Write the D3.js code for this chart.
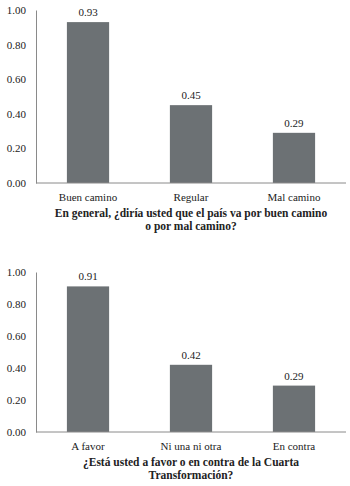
<!DOCTYPE html>
<html>
<head>
<meta charset="utf-8">
<script src="https://cdn.jsdelivr.net/npm/d3@7"></script>
<style>
  body { margin: 0; background: #fff; }
  text { font-family: "Liberation Serif", serif; fill: #222; }
</style>
</head>
<body>
<div id="chart"></div>
<script>
// data
const cats1 = ["Buen camino", "Regular", "Mal camino"];
const vals1 = [0.93, 0.45, 0.29];
const title1 = ["En general, ¿diría usted que el país va por buen camino", "o por mal camino?"];

const cats2 = ["A favor", "Ni una ni otra", "En contra"];
const vals2 = [0.91, 0.42, 0.29];
const title2 = ["¿Está usted a favor o en contra de la Cuarta", "Transformación?"];

const ticks = [0, 0.2, 0.4, 0.6, 0.8, 1.0];

const width = 350, height = 486;

const svg = d3.select('#chart')
  .append('svg')
  .attr('width', width)
  .attr('height', height);

function drawChart(cats, vals, title, top, bottom) {
  const left = 36, right = 346;

  const x = d3.scaleBand()
    .domain(cats)
    .range([left, right])
    .paddingInner(0.59)
    .paddingOuter(0.3);

  const y = d3.scaleLinear()
    .domain([0, 1])
    .range([bottom, top]);

  const g = svg.append('g');

  // y axis
  const yAxis = d3.axisLeft(y)
    .tickValues(ticks)
    .tickSize(0)
    .tickPadding(10)
    .tickFormat(d3.format('.2f'));

  g.append('g')
    .attr('transform', 'translate(' + left + ',0)')
    .call(yAxis)
    .call(s => s.select('.domain').attr('stroke', '#8a8a8a'))
    .call(s => s.selectAll('text')
      .style('font-family', '"Liberation Serif", serif')
      .style('font-size', '11px')
      .attr('fill', '#222'));

  // bars
  g.selectAll('rect')
    .data(vals)
    .enter().append('rect')
    .attr('x', (d, i) => x(cats[i]))
    .attr('y', d => y(d))
    .attr('width', x.bandwidth())
    .attr('height', d => bottom - y(d))
    .attr('fill', '#6c7174');

  // baseline
  g.append('line')
    .attr('x1', left).attr('x2', right)
    .attr('y1', bottom).attr('y2', bottom)
    .attr('stroke', '#8a8a8a');

  // value labels
  g.selectAll('text.val')
    .data(vals)
    .enter().append('text')
    .attr('class', 'val')
    .attr('x', (d, i) => x(cats[i]) + x.bandwidth() / 2)
    .attr('y', d => y(d) - 6)
    .attr('text-anchor', 'middle')
    .style('font-size', '11px')
    .text(d => d3.format('.2f')(d));

  // category labels
  g.selectAll('text.cat')
    .data(cats)
    .enter().append('text')
    .attr('class', 'cat')
    .attr('x', d => x(d) + x.bandwidth() / 2)
    .attr('y', bottom + 18)
    .attr('text-anchor', 'middle')
    .style('font-size', '11px')
    .text(d => d);

  // title
  g.selectAll('text.title')
    .data(title)
    .enter().append('text')
    .attr('class', 'title')
    .attr('x', (left + right) / 2)
    .attr('y', (d, i) => bottom + 34 + i * 13)
    .attr('text-anchor', 'middle')
    .style('font-size', '11.5px')
    .style('font-weight', 'bold')
    .text(d => d);
}

drawChart(cats1, vals1, title1, 10, 183);
drawChart(cats2, vals2, title2, 272, 432);
</script>
</body>
</html>
